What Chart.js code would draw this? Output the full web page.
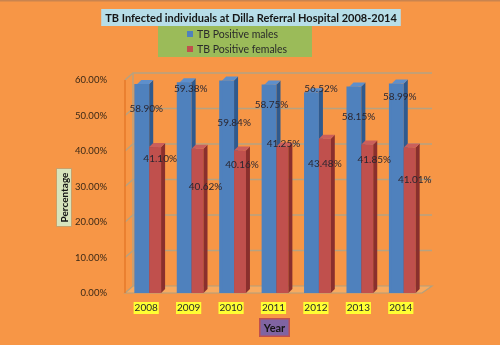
<!DOCTYPE html>
<html><head><meta charset="utf-8">
<script src="https://cdn.jsdelivr.net/npm/chart.js@4.4.1/dist/chart.umd.min.js"></script>
<style>html,body{margin:0;padding:0;background:#F79646;overflow:hidden}#wrap{width:500px;height:345px;}</style>
</head><body><div id="wrap"><canvas id="c" width="500" height="345"></canvas></div>
<script>
// ---- data ----
const chartTitle = 'TB Infected individuals at Dilla Referral Hospital 2008-2014';
const years = ['2008', '2009', '2010', '2011', '2012', '2013', '2014'];
const seriesNames = ['TB Positive males', 'TB Positive females'];
const malesPct = [58.90, 59.38, 59.84, 58.75, 56.52, 58.15, 58.99];
const femalesPct = [41.10, 40.62, 40.16, 41.25, 43.48, 41.85, 41.01];
const yMin = 0, yMax = 60, yStep = 10;
const xAxisTitle = 'Year';
const yAxisTitle = 'Percentage';

// ---- label placement (px shifts from bar top centre, as in the original) ----
const maleLabelShift = [[3, 25], [5, 7], [6, 42], [1, 20], [8, -4], [3, 30], [2, 13]];
const femaleLabelShift = [[5, 12], [8, 38], [2, 14], [1, -3], [0, 25], [7, 15], [5, 32]];

// ---- styles ----
const FONT = 'Lato, "Open Sans", "DejaVu Sans", sans-serif';
const BG = '#F79646';
const faces = [
  {front: '#4F81BD', side: '#2F5A8E', top: '#5E8FCB'},
  {front: '#C0504D', side: '#8A2F2D', top: '#CB5F5B'}
];
const WALL_DX = 8, WALL_DY = 7, BAR_D = 4, BAR_SHIFT = 3;

const decor = {
  id: 'decor',
  beforeDraw(chart) {
    const ctx = chart.ctx;
    ctx.save();
    ctx.fillStyle = BG;
    ctx.fillRect(0, 0, chart.width, chart.height);
    ctx.strokeStyle = '#C9844F';
    ctx.lineWidth = 1.5;
    ctx.beginPath(); ctx.moveTo(0, 0.75); ctx.lineTo(chart.width, 0.75); ctx.stroke();
    ctx.restore();
  },
  beforeDatasetsDraw(chart) {
    const ctx = chart.ctx, a = chart.chartArea, ys = chart.scales.y;
    ctx.save();
    const base = ys.getPixelForValue(yMin);
    // floor
    ctx.fillStyle = 'rgba(250,190,120,0.5)';
    ctx.strokeStyle = '#B2A07E';
    ctx.lineWidth = 1.2;
    ctx.beginPath();
    ctx.moveTo(a.left, base);
    ctx.lineTo(a.left + WALL_DX, base - WALL_DY);
    ctx.lineTo(a.right + WALL_DX + 2, base - WALL_DY);
    ctx.lineTo(a.right, base);
    ctx.closePath();
    ctx.fill(); ctx.stroke();
    // back wall gridlines
    ctx.strokeStyle = '#B5A282';
    ctx.lineWidth = 1.4;
    for (let v = yMin + yStep; v <= yMax; v += yStep) {
      const y = ys.getPixelForValue(v);
      ctx.beginPath();
      ctx.moveTo(a.left, y);
      ctx.lineTo(a.left + WALL_DX, y - WALL_DY);
      ctx.lineTo(a.right + WALL_DX + 2, y - WALL_DY);
      ctx.stroke();
    }
    // left back edge
    ctx.beginPath();
    ctx.moveTo(a.left + WALL_DX, ys.getPixelForValue(yMax) - WALL_DY);
    ctx.lineTo(a.left + WALL_DX, base - WALL_DY);
    ctx.stroke();
    // front axis line
    ctx.strokeStyle = '#E6782A';
    ctx.lineWidth = 1.5;
    ctx.beginPath();
    ctx.moveTo(a.left, ys.getPixelForValue(yMax));
    ctx.lineTo(a.left, base);
    ctx.stroke();
    ctx.restore();
  },
  afterDatasetsDraw(chart) {
    const ctx = chart.ctx;
    ctx.save();
    ctx.translate(BAR_SHIFT, 0);
    const metas = [chart.getDatasetMeta(0), chart.getDatasetMeta(1)];
    for (let i = 0; i < years.length; i++) {
      metas.forEach((meta, di) => {
        const el = meta.data[i];
        const w = el.width, l = el.x - w / 2, r = el.x + w / 2, t = el.y, b = el.base;
        const f = faces[di];
        ctx.fillStyle = f.front;
        ctx.fillRect(l, t, w, b - t);
        ctx.fillStyle = f.side;
        ctx.beginPath();
        ctx.moveTo(r, t); ctx.lineTo(r + BAR_D, t - BAR_D); ctx.lineTo(r + BAR_D, b - BAR_D); ctx.lineTo(r, b);
        ctx.closePath(); ctx.fill();
        ctx.fillStyle = f.top;
        ctx.beginPath();
        ctx.moveTo(l, t); ctx.lineTo(l + BAR_D, t - BAR_D); ctx.lineTo(r + BAR_D, t - BAR_D); ctx.lineTo(r, t);
        ctx.closePath(); ctx.fill();
      });
    }
    // data labels
    ctx.font = '10px ' + FONT;
    ctx.fillStyle = '#2A2630';
    ctx.textAlign = 'center';
    ctx.textBaseline = 'middle';
    const shifts = [maleLabelShift, femaleLabelShift];
    metas.forEach((meta, di) => {
      const vals = chart.data.datasets[di].data;
      meta.data.forEach((el, i) => {
        const s = shifts[di][i];
        ctx.fillText(vals[i].toFixed(2) + '%', el.x + s[0], el.y + s[1]);
      });
    });
    ctx.restore();
  },
  afterDraw(chart) {
    const ctx = chart.ctx;
    ctx.save();
    ctx.textBaseline = 'middle';
    ctx.textAlign = 'center';
    // title
    ctx.font = 'bold 11px ' + FONT;
    const tw = ctx.measureText(chartTitle).width;
    const tcx = 251;
    ctx.fillStyle = '#B7DEE8';
    ctx.fillRect(tcx - tw / 2 - 4, 9, tw + 8, 17);
    ctx.fillStyle = '#151515';
    ctx.fillText(chartTitle, tcx, 18);
    // legend
    ctx.fillStyle = '#9BBB59';
    ctx.fillRect(158, 26, 154, 31);
    ctx.textAlign = 'left';
    ctx.font = '10.5px ' + FONT;
    chart.data.datasets.forEach((ds, i) => {
      const cy = 34 + i * 15;
      ctx.fillStyle = faces[i].front;
      ctx.fillRect(187, cy - 3, 6, 6);
      ctx.fillStyle = '#2B2B2B';
      ctx.fillText(ds.label, 197, cy + 0.5);
    });
    // y axis title
    ctx.fillStyle = '#D7E4BD';
    ctx.strokeStyle = '#C9A06A';
    ctx.lineWidth = 1;
    ctx.fillRect(56, 168, 16, 59);
    ctx.strokeRect(56.5, 168.5, 15, 58);
    ctx.save();
    ctx.translate(64.5, 197.5);
    ctx.rotate(-Math.PI / 2);
    ctx.textAlign = 'center';
    ctx.font = 'bold 10px ' + FONT;
    ctx.fillStyle = '#151515';
    ctx.fillText(yAxisTitle, 0, 0);
    ctx.restore();
    // x axis title
    ctx.fillStyle = '#8064A2';
    ctx.fillRect(259, 318, 31, 19);
    ctx.strokeStyle = '#C0504D';
    ctx.lineWidth = 1.5;
    ctx.strokeRect(259.75, 318.75, 29.5, 17.5);
    ctx.textAlign = 'center';
    ctx.font = 'bold 11px ' + FONT;
    ctx.fillStyle = '#151515';
    ctx.fillText(xAxisTitle, 274.5, 328);
    ctx.restore();
  }
};

new Chart(document.getElementById('c'), {
  type: 'bar',
  data: {
    labels: years,
    datasets: [
      {label: seriesNames[0], data: malesPct, backgroundColor: faces[0].front},
      {label: seriesNames[1], data: femalesPct, backgroundColor: faces[1].front}
    ]
  },
  options: {
    responsive: false,
    animation: false,
    devicePixelRatio: 1,
    categoryPercentage: 0.56,
    barPercentage: 1.0,
    layout: {padding: {top: 80, right: 78, left: 0, bottom: 0}},
    plugins: {legend: {display: false}, title: {display: false}, tooltip: {enabled: false}},
    scales: {
      x: {
        grid: {display: false},
        border: {display: false},
        ticks: {
          font: {family: FONT, size: 10},
          color: '#2A2A2A',
          padding: 1,
          showLabelBackdrop: true,
          backdropColor: '#FFFF33',
          backdropPadding: {top: 0, bottom: 0, left: 1, right: 1},
          maxRotation: 0
        },
        afterFit(s) { s.height = 52; }
      },
      y: {
        min: yMin, max: yMax,
        grid: {display: false},
        border: {display: false},
        ticks: {
          stepSize: yStep,
          font: {family: FONT, size: 9.5},
          color: '#3A2816',
          padding: 10,
          callback: v => Number(v).toFixed(2) + '%'
        },
        afterFit(s) { s.width = 125; }
      }
    }
  },
  plugins: [decor]
});
</script>
</body></html>
